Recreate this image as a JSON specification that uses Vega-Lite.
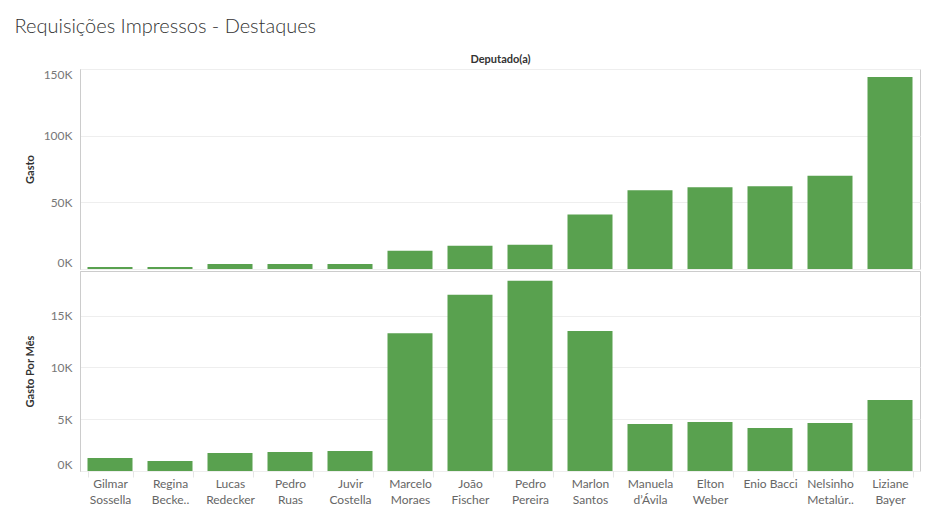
{
  "$schema": "https://vega.github.io/schema/vega-lite/v6.json",
  "background": "white",
  "padding": {"left": 14, "top": 16, "right": 20, "bottom": 10},
  "title": {"text": "Requisições Impressos - Destaques", "anchor": "start", "frame": "bounds", "font": "Lato", "fontSize": 20, "fontWeight": 300, "color": "#333333", "offset": 16, "dx": -9},
  "data": {"values": [
    {"Deputado": "Gilmar Sossella", "Gasto": 1500, "GastoMes": 1260},
    {"Deputado": "Regina Becke..", "Gasto": 1500, "GastoMes": 970},
    {"Deputado": "Lucas Redecker", "Gasto": 3800, "GastoMes": 1740},
    {"Deputado": "Pedro Ruas", "Gasto": 3800, "GastoMes": 1840},
    {"Deputado": "Juvir Costella", "Gasto": 3800, "GastoMes": 1930},
    {"Deputado": "Marcelo Moraes", "Gasto": 13600, "GastoMes": 13300},
    {"Deputado": "João Fischer", "Gasto": 17400, "GastoMes": 17000},
    {"Deputado": "Pedro Pereira", "Gasto": 18200, "GastoMes": 18360},
    {"Deputado": "Marlon Santos", "Gasto": 40900, "GastoMes": 13500},
    {"Deputado": "Manuela d’Ávila", "Gasto": 59000, "GastoMes": 4540},
    {"Deputado": "Elton Weber", "Gasto": 61400, "GastoMes": 4730},
    {"Deputado": "Enio Bacci", "Gasto": 62100, "GastoMes": 4150},
    {"Deputado": "Nelsinho Metalúr..", "Gasto": 70000, "GastoMes": 4640},
    {"Deputado": "Liziane Bayer", "Gasto": 144000, "GastoMes": 6860}
  ]},
  "spacing": 0,
  "vconcat": [
    {
      "width": 840,
      "height": 200,
      "mark": {"type": "bar", "color": "#59a14f"},
      "encoding": {
        "x": {"field": "Deputado", "type": "nominal", "sort": null,
              "scale": {"paddingInner": 0.25, "paddingOuter": 0.125},
              "axis": {"orient": "top", "title": "Deputado(a)", "labels": false, "ticks": false, "domain": false, "titlePadding": 5, "titleFont": "Lato", "titleFontSize": 11, "titleFontWeight": "bold", "titleColor": "#333333"}},
        "y": {"field": "Gasto", "type": "quantitative", "scale": {"domain": [0, 150000], "nice": false},
              "axis": {"title": "Gasto", "values": [0, 50000, 100000, 150000], "labelExpr": "datum.value/1000 + 'K'", "labelFlush": true, "titleX": -50, "titleY": 100, "titleAlign": "center", "titleBaseline": "middle"}}
      }
    },
    {
      "width": 840,
      "height": 200,
      "mark": {"type": "bar", "color": "#59a14f"},
      "encoding": {
        "x": {"field": "Deputado", "type": "nominal", "sort": null,
              "scale": {"paddingInner": 0.25, "paddingOuter": 0.125},
              "axis": {"orient": "bottom", "title": null, "labelAngle": 0, "labelExpr": "datum.label == 'Enio Bacci' ? datum.label : split(datum.label, ' ')", "labelLineHeight": 16, "labelPadding": 1, "labelFont": "Lato", "labelFontSize": 12, "labelColor": "#666666", "ticks": true, "tickBand": "extent", "tickSize": 6, "tickColor": "#e6e6e6", "domain": false}},
        "y": {"field": "GastoMes", "type": "quantitative", "scale": {"domain": [0, 19300], "nice": false},
              "axis": {"title": "Gasto Por Mês", "values": [0, 5000, 10000, 15000], "labelExpr": "datum.value/1000 + 'K'", "labelFlush": true, "titleX": -50, "titleY": 100, "titleAlign": "center", "titleBaseline": "middle"}}
      }
    }
  ],
  "config": {
    "view": {"stroke": "#cccccc", "strokeWidth": 1},
    "axisY": {"labelFont": "Lato", "labelFontSize": 12, "labelColor": "#777777", "labelPadding": 8, "ticks": false, "domain": true, "domainColor": "#cccccc", "gridColor": "#eeeeee", "titleFont": "Lato", "titleFontSize": 11, "titleFontWeight": "bold", "titleColor": "#333333"},
    "axisX": {"grid": false}
  }
}
